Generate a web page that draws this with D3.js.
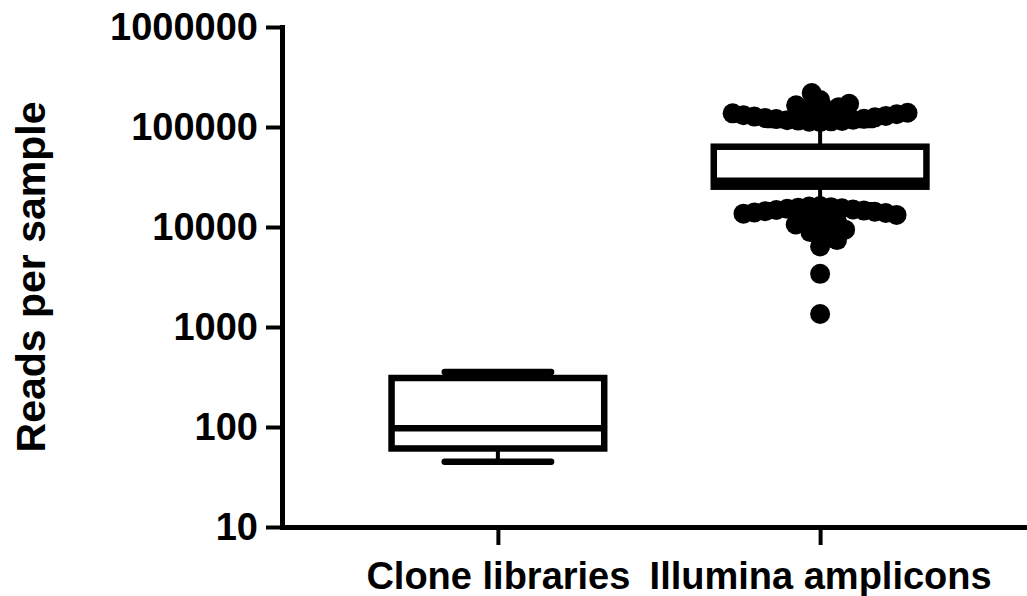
<!DOCTYPE html>
<html>
<head>
<meta charset="utf-8">
<script src="https://cdn.jsdelivr.net/npm/d3@7"></script>
<style>
  body { margin: 0; background: #fff; }
  text { font-family: "Liberation Sans", Arial, sans-serif; font-weight: bold; fill: #000; }
</style>
</head>
<body>
<div id="chart"></div>
<script>
// values
var categories = ["Clone libraries", "Illumina amplicons"]
var whiskerLow = [45, 16500]
var q1 = [61, 25300]
var median = [97, 29000]
var q3 = [309, 63500]
var whiskerHigh = [355, 105000]

// Illumina samples drawn as points beyond the whiskers
var illuminaHigh = [219000, 186000, 171000, 165000, 158000, 152000, 147000, 143000, 139000, 137000,
                    134000, 131000, 129000, 127000, 125000, 123000, 121000, 120000, 118500, 117000,
                    116000, 115000, 114000, 113000, 112000]
var illuminaLow = [16200, 16000, 15800, 15600, 15400, 15200, 15000, 14800, 14600, 14400,
                   14200, 14000, 13800, 13600,
                   13200, 12800, 12300, 11800, 11200, 10600, 10000, 9400, 8900, 8200, 7400, 6400, 3400, 1350]

var yTicks = [10, 100, 1000, 10000, 100000, 1000000]

var svgSize = { width: 1027, height: 596 }
var axisX = 282, axisY = 527, topY = 27

var svg = d3.select("#chart").append("svg")
            .attr("width", svgSize.width)
            .attr("height", svgSize.height)

var y = d3.scaleLog().domain([10, 1000000]).range([axisY, topY])
var x = d3.scalePoint().domain(categories).range([axisX, 1036]).padding(0.67)

var boxW = 0.66 * x.step()
var capW = boxW / 2
var r = 10

// axes
var yAxis = d3.axisLeft(y).tickValues(yTicks).tickFormat(d3.format("d"))
              .tickSize(16).tickPadding(8).tickSizeOuter(0)
var xAxis = d3.axisBottom(x).tickSize(18).tickPadding(17).tickSizeOuter(0)

var gx = svg.append("g").attr("transform", `translate(0, ${axisY})`).call(xAxis)
var gy = svg.append("g").attr("transform", `translate(${axisX}, 0)`).call(yAxis)

gx.select(".domain").attr("stroke-width", 5).attr("stroke-linecap", "square")
gy.select(".domain").attr("stroke-width", 5).attr("stroke-linecap", "square")
svg.selectAll(".tick line").attr("stroke-width", 4)
svg.selectAll(".tick text").attr("font-size", 38).attr("font-family", null)
  .style("font-family", '"Liberation Sans", Arial, sans-serif').style("font-weight", "bold")

svg.append("text")
   .attr("transform", "translate(45, 277) rotate(-90)")
   .attr("text-anchor", "middle")
   .attr("font-size", 41)
   .text("Reads per sample")

// boxes
var plot = svg.append("g")
categories.forEach((c, i) => {
    var cx = x(c)
    plot.append("line").attr("x1", cx).attr("x2", cx)
        .attr("y1", y(q3[i])).attr("y2", y(whiskerHigh[i]))
        .attr("stroke", "black").attr("stroke-width", 4)
    plot.append("line").attr("x1", cx).attr("x2", cx)
        .attr("y1", y(q1[i])).attr("y2", y(whiskerLow[i]))
        .attr("stroke", "black").attr("stroke-width", 4)
    ;[whiskerLow[i], whiskerHigh[i]].forEach(v => {
        plot.append("line").attr("x1", cx - capW / 2).attr("x2", cx + capW / 2)
            .attr("y1", y(v)).attr("y2", y(v))
            .attr("stroke", "black").attr("stroke-width", 6.5).attr("stroke-linecap", "round")
    })
    plot.append("rect")
        .attr("x", cx - boxW / 2).attr("width", boxW)
        .attr("y", y(q3[i])).attr("height", y(q1[i]) - y(q3[i]))
        .attr("fill", "white").attr("stroke", "black").attr("stroke-width", 6.5)
    plot.append("line").attr("x1", cx - boxW / 2).attr("x2", cx + boxW / 2)
        .attr("y1", y(median[i])).attr("y2", y(median[i]))
        .attr("stroke", "black").attr("stroke-width", 6.5)
})

// simple beeswarm: each point goes to the free spot nearest the centre line
function swarm(values, cx, minD) {
    var placed = []
    values.forEach(v => {
        var py = y(v)
        var iv = placed.filter(p => Math.abs(p.y - py) < minD).map(p => {
            var w = Math.sqrt(minD * minD - (p.y - py) * (p.y - py))
            return [p.x - w, p.x + w]
        })
        var cands = [cx].concat(...iv).sort((a, b) => Math.abs(a - cx) - Math.abs(b - cx))
        var px = cands.find(c => iv.every(s => c <= s[0] + 1e-6 || c >= s[1] - 1e-6))
        placed.push({ x: px, y: py, v: v })
    })
    return placed
}

var cxI = x(categories[1])
var pts = swarm(illuminaHigh.slice().sort((a, b) => a - b), cxI, 11)
    .concat(swarm(illuminaLow.slice().sort((a, b) => b - a), cxI, 11))

plot.selectAll("circle").data(pts).enter().append("circle")
    .attr("cx", d => d.x).attr("cy", d => d.y).attr("r", r)
    .attr("fill", "black")
</script>
</body>
</html>
